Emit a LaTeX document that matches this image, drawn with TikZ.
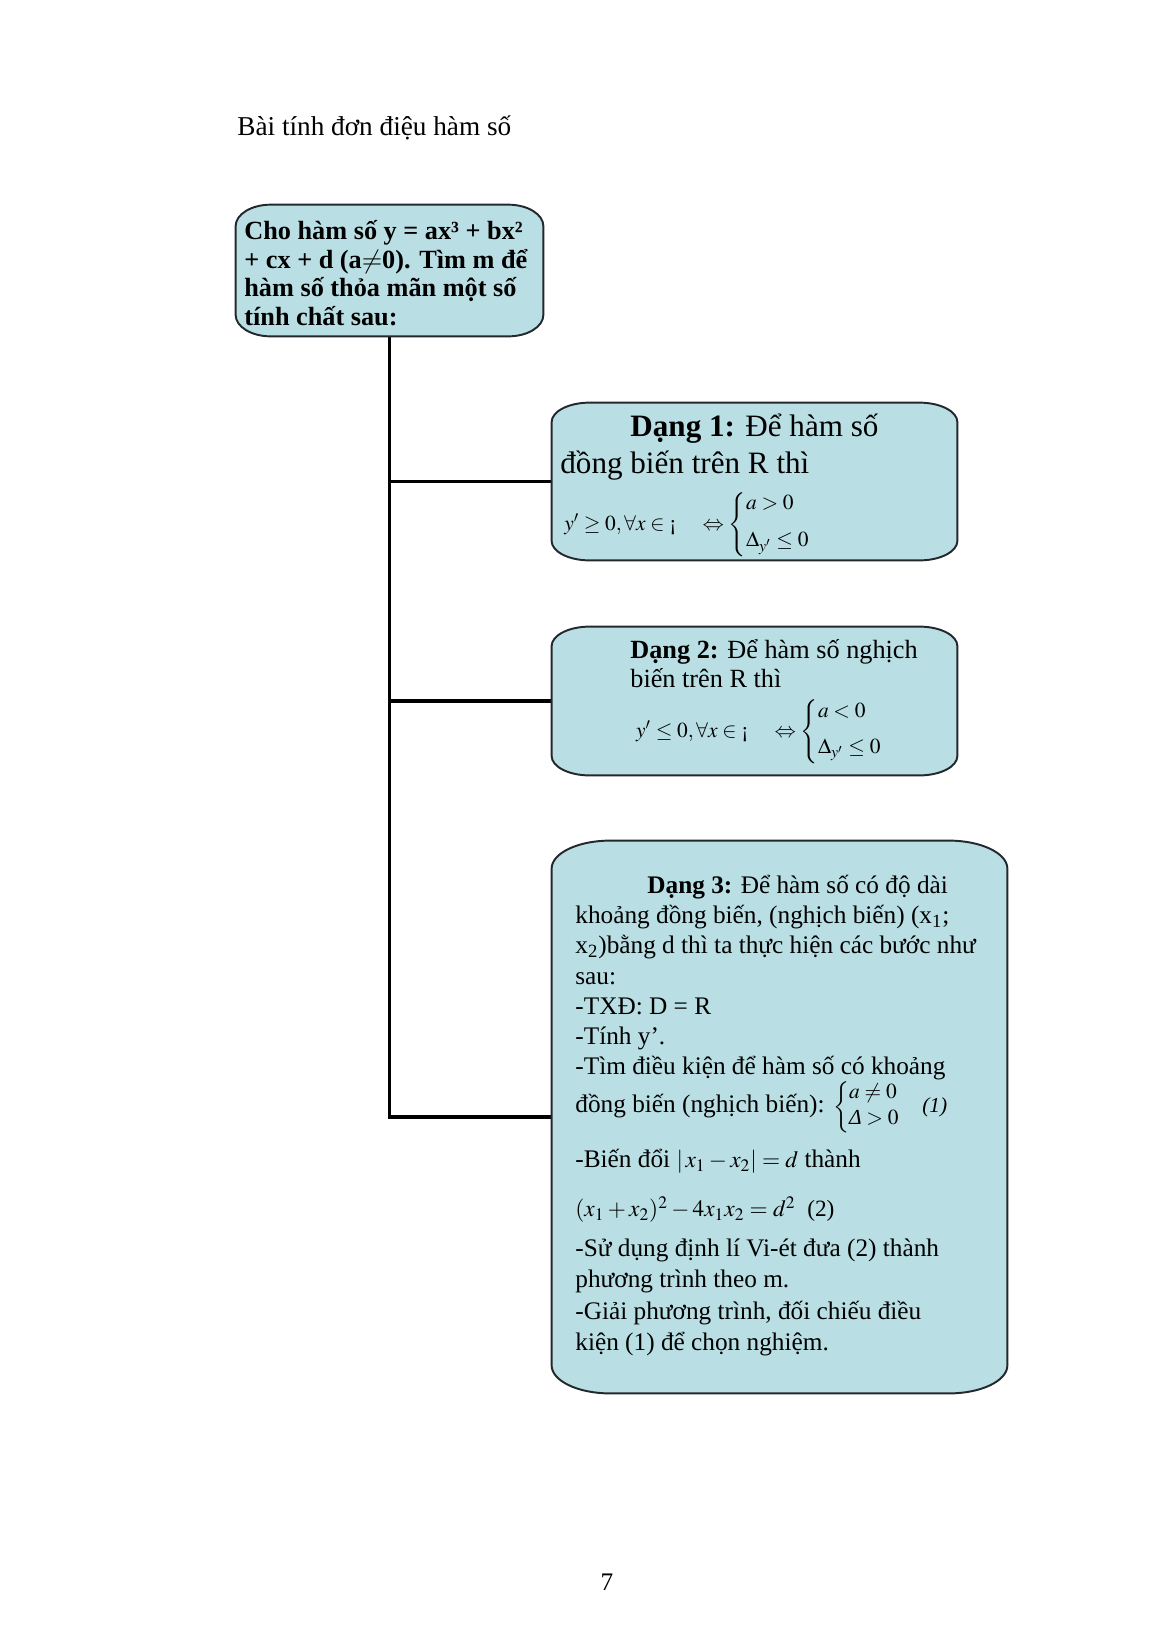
\documentclass[tikz,border=0pt]{standalone}
\usepackage{mathptmx}
\usepackage[no-math]{fontspec}
\setmainfont{Liberation Serif}
\usetikzlibrary{calc}

\definecolor{cardblue}{RGB}{185,223,228}
\definecolor{cardedge}{RGB}{35,40,45}

\tikzset{
	card/.style 2 args={minimum width=#1,minimum height=#2,inner sep=0pt},
	cardline/.style={draw=cardedge,line width=1pt,fill=cardblue},
	txt/.style={inner sep=0pt,anchor=base west,align=left},
	trunk/.style={line width=2pt},
	branch/.style={line width=1.6pt}
}

% khung bo goc elip: ten node, ban kinh ngang, ban kinh doc
\newcommand\cardshape[3]{%
	\filldraw[cardline] let \p1=(#1.north west), \p2=(#1.south east) in
	(\x1+#2,\y1) -- (\x2-#2,\y1)
	.. controls (\x2-0.45*#2,\y1) and (\x2,\y1-0.45*#3) .. (\x2,\y1-#3)
	-- (\x2,\y2+#3)
	.. controls (\x2,\y2+0.45*#3) and (\x2-0.45*#2,\y2) .. (\x2-#2,\y2)
	-- (\x1+#2,\y2)
	.. controls (\x1+0.45*#2,\y2) and (\x1,\y2+0.45*#3) .. (\x1,\y2+#3)
	-- (\x1,\y1-#3)
	.. controls (\x1,\y1-0.45*#3) and (\x1+0.45*#2,\y1) .. (\x1+#2,\y1) -- cycle;}
\newcommand\sysrows[3]{\left\{\begin{array}{@{}l@{}}#1\\[#3]#2\end{array}\right.}
% cong thuc khong day cac dong
\newcommand\mathline[2]{\smash{\fontsize{#1}{#1}\selectfont #2}}

\begin{document}
\begin{tikzpicture}[x=0.5141pt,y=-0.5141pt]
		\useasboundingbox (0,0) rectangle (1158,1637);
		\node[txt,font=\fontsize{14}{16}\selectfont] (title) at (237,135) {Bài tính đơn điệu hàm số};
		% cac khung
		\node[card={157.8pt}{67.3pt}] (b1) at (389.5,270.5) {};
		\node[card={208.2pt}{80.7pt}] (b2) at (754.5,481.5) {};
		\node[card={208.2pt}{76.1pt}] (b3) at (754.5,701) {};
		\node[card={233.9pt}{283.8pt}] (b4) at (779.5,1117) {};
		% duong noi
		\draw[trunk] (b1.south) |- (b4.west);
		\draw[branch] (b1.south |- b2.west) -- (b2.west);
		\draw[branch] (b1.south |- b3.west) -- (b3.west);
		\cardshape{b1}{18pt}{11pt}
		\cardshape{b2}{19.5pt}{10pt}
		\cardshape{b3}{19.5pt}{10pt}
		\cardshape{b4}{30pt}{14.4pt}
		% noi dung (goc neo: dong cuoi)
		\node[txt,font=\bfseries\fontsize{13.5}{14.6}\selectfont] (t1) at (244,325) {Cho hàm số y = ax³ + bx²\\+ cx + d (a$\neq$0). Tìm m để\\hàm số thỏa mãn một số\\tính chất sau:};
		\node[txt,font=\fontsize{16}{18.7}\selectfont] (t2) at (560,530) {\hspace*{36pt}\textbf{Dạng 1:} Để hàm số\\đồng biến trên R thì\\[10.6pt]\hspace*{2pt}\mathline{11}{$y'\geq 0,\forall x\in\mbox{¡}\quad\Leftrightarrow\sysrows{a>0}{\Delta_{y'}\leq 0}{8pt}$}};
		\node[txt,font=\fontsize{13.5}{15.4}\selectfont] (t3) at (630,737) {\textbf{Dạng 2:} Để hàm số nghịch\\biến trên R thì\\[9.8pt]\hspace*{3pt}\mathline{11}{$y'\leq 0,\forall x\in\mbox{¡}\quad\Leftrightarrow\sysrows{a<0}{\Delta_{y'}\leq 0}{7.5pt}$}};
		\node[txt,font=\fontsize{13}{15.5}\selectfont] (t4) at (575,1350) {\hspace*{37pt}\textbf{Dạng 3:} Để hàm số có độ dài\\
			khoảng đồng biến, (nghịch biến) (x\textsubscript{1};\\
			x\textsubscript{2})bằng d thì ta thực hiện các bước như\\
			sau:\\
			-TXĐ: D = R\\
			-Tính y’.\\
			-Tìm điều kiện để hàm số có khoảng\\[4pt]
			đồng biến (nghịch biến): \mathline{11}{$\sysrows{a\neq 0}{\mbox{\itshape Δ}>0}{2.4pt}$\quad\textit{(1)}}\\[12.8pt]
			-Biến đổi \mathline{12}{$\left|\,x_1-x_2\right|=d$} thành\\[9.7pt]
			\mathline{12}{$(x_1+x_2)^2-4x_1x_2=d^2$\enspace(2)}\\[5.1pt]
			-Sử dụng định lí Vi-ét đưa (2) thành\\[0.5pt]
			phương trình theo m.\\[1pt]
			-Giải phương trình, đối chiếu điều\\
			kiện (1) để chọn nghiệm.};
		\node[inner sep=0pt,anchor=base,font=\fontsize{13}{15}\selectfont] (pagenum) at (607,1590) {7};
\end{tikzpicture}
\end{document}
